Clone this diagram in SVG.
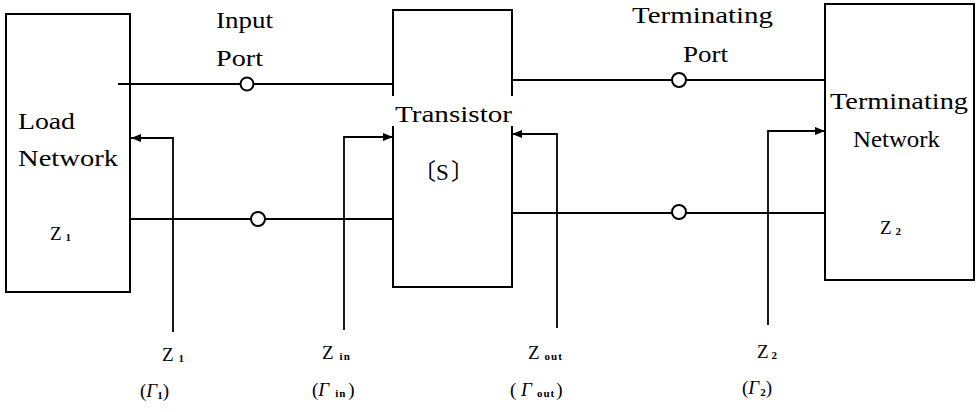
<svg xmlns="http://www.w3.org/2000/svg" width="977" height="412" viewBox="0 0 977 412" font-family="Liberation Serif">
<style>
.box{fill:none;stroke:#000;stroke-width:2}
.ln{fill:none;stroke:#000;stroke-width:1.8}
.port{fill:#fff;stroke:#000;stroke-width:2}
.t{font-size:23px;fill:#000}
.z{font-size:19px;fill:#000}
.g{font-size:19px;font-style:italic;fill:#000}
.s{font-size:11px;font-weight:bold;fill:#000}
</style>
<defs>
<marker id="ah" viewBox="0 0 10 8" refX="10" refY="4" markerWidth="10" markerHeight="8" markerUnits="userSpaceOnUse" orient="auto">
<path d="M0,0 L10,4 L0,8 Z" fill="#000"/>
</marker>
</defs>

<g id="connectors">
<path class="ln" d="M118 84 H393"/>
<path class="ln" d="M130 219 H393"/>
<path class="ln" d="M512 80 H825"/>
<path class="ln" d="M512 213 H825"/>
<circle class="port" cx="247" cy="84" r="6.5"/>
<circle class="port" cx="258" cy="219" r="7"/>
<circle class="port" cx="679" cy="80" r="7"/>
<circle class="port" cx="679" cy="212" r="7"/>
<path class="ln" d="M173 332 V138 H131" marker-end="url(#ah)"/>
<path class="ln" d="M344 330 V137 H393" marker-end="url(#ah)"/>
<path class="ln" d="M557 328 V134 H512" marker-end="url(#ah)"/>
<path class="ln" d="M768 325 V131 H825" marker-end="url(#ah)"/>
</g>

<g id="load-network">
<rect class="box" x="6" y="14" width="124" height="278"/>
<text class="t" x="18" y="129" textLength="57" lengthAdjust="spacingAndGlyphs">Load</text>
<text class="t" x="18" y="166" textLength="100" lengthAdjust="spacingAndGlyphs">Network</text>
<text class="z" x="50" y="240">Z<tspan class="s" dx="4" dy="1">1</tspan></text>
</g>

<g id="transistor">
<rect class="box" x="393" y="10" width="119" height="277"/>
<rect x="388" y="96" width="130" height="30" fill="#fff"/>
<text class="t" x="395" y="122" textLength="117" lengthAdjust="spacingAndGlyphs">Transistor</text>
<text class="t" y="180" font-family="Noto Sans CJK JP, Noto Sans CJK SC, sans-serif" font-size="21"><tspan x="413">〔</tspan><tspan x="451">〕</tspan></text>
<text class="t" x="436" y="180">S</text>
</g>

<g id="terminating-network">
<rect class="box" x="825" y="4" width="149" height="276"/>
<text class="t" x="830" y="109" textLength="138" lengthAdjust="spacingAndGlyphs">Terminating</text>
<text class="t" x="853" y="147" textLength="87" lengthAdjust="spacingAndGlyphs">Network</text>
<text class="z" x="880" y="234">Z<tspan class="s" dx="4" dy="1">2</tspan></text>
</g>

<g id="input-port">
<text class="t" x="216" y="28" textLength="57" lengthAdjust="spacingAndGlyphs">Input</text>
<text class="t" x="216" y="66" textLength="47" lengthAdjust="spacingAndGlyphs">Port</text>
</g>

<g id="terminating-port">
<text class="t" x="632" y="23" textLength="141" lengthAdjust="spacingAndGlyphs">Terminating</text>
<text class="t" x="683" y="62" textLength="45" lengthAdjust="spacingAndGlyphs">Port</text>
</g>

<g id="label-z1">
<text class="z" x="162" y="361">Z<tspan class="s" dx="5" dy="1">1</tspan></text>
<text class="z" x="140" y="397">(<tspan class="g">Γ</tspan><tspan class="s" dy="2">1</tspan><tspan dy="-2">)</tspan></text>
</g>

<g id="label-zin">
<text class="z" x="322" y="359">Z<tspan class="s" dx="6" dy="1" letter-spacing="1">in</tspan></text>
<text class="z" x="312" y="396">(<tspan class="g">Γ</tspan><tspan class="s" dx="6" dy="1" letter-spacing="1">in</tspan><tspan dx="2" dy="-1">)</tspan></text>
</g>

<g id="label-zout">
<text class="z" x="528" y="359">Z<tspan class="s" dx="5" dy="1" letter-spacing="1">out</tspan></text>
<text class="z" x="510" y="396">( <tspan class="g">Γ</tspan><tspan class="s" dx="5" dy="1" letter-spacing="1">out</tspan><tspan dx="1" dy="-1">)</tspan></text>
</g>

<g id="label-z2">
<text class="z" x="757" y="358">Z<tspan class="s" dx="3" dy="1">2</tspan></text>
<text class="z" x="742" y="394">(<tspan class="g">Γ</tspan><tspan class="s" dx="1" dy="2">2</tspan><tspan dy="-2">)</tspan></text>
</g>
</svg>
